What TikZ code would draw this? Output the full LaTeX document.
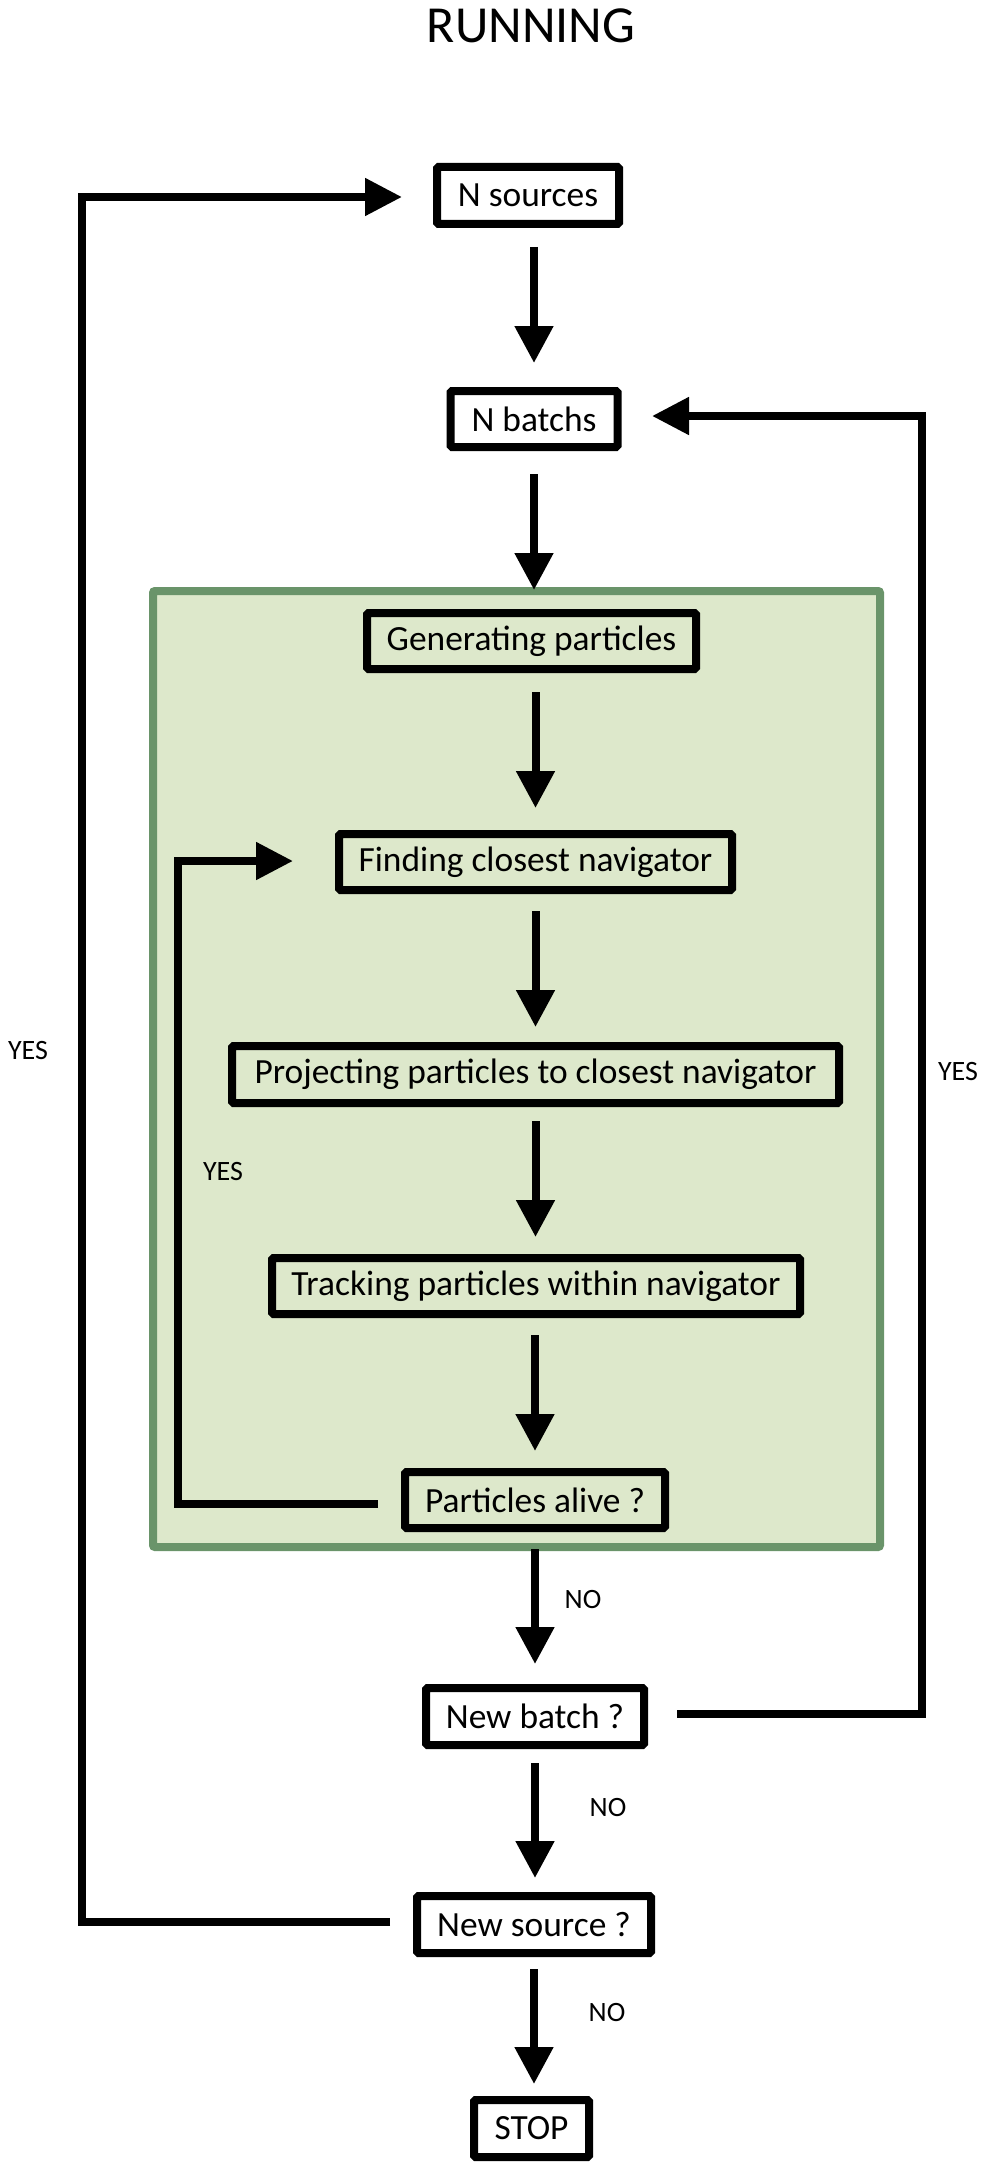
\documentclass[tikz,border=0pt]{standalone}
\usepackage{fontspec}
\setmainfont{Carlito}
\usetikzlibrary{arrows.meta,calc}
\definecolor{gfill}{HTML}{DDE8CB}
\definecolor{gline}{HTML}{6A946A}
\begin{document}
\begin{tikzpicture}[x=1pt,y=-1pt,
  box/.style={draw=black,line width=8pt,fill=white,inner sep=0pt,rounded corners=1.5pt,font=\fontsize{35.4}{42}\selectfont},
  gbox/.style={box,fill=gfill},
  arr/.style={line width=8pt,-{Triangle[width=37pt,length=37pt]}},
  ln/.style={line width=8pt,line join=miter,-{Triangle[width=36pt,length=37pt]}},
  lbl/.style={font=\fontsize{28}{33}\selectfont}]
\useasboundingbox (0,0) rectangle (986,2167);

\node[font=\fontsize{52}{62}\selectfont,anchor=base] (title) at (531,43) {RUNNING};

\node[draw=gline,fill=gfill,line width=8pt,inner sep=0pt,minimum width=727pt,minimum height=956pt,rounded corners=2pt] (grn) at (516.5,1069) {};

\node[box,minimum width=182pt,minimum height=57pt] (ns) at (528,195.5) {N sources};
\node[box,minimum width=167pt,minimum height=56pt] (nb) at (534,419) {N batchs};
\node[gbox,minimum width=329pt,minimum height=56pt] (gen) at (531.5,641) {Generating particles};
\node[gbox,minimum width=393pt,minimum height=56pt] (find) at (535.5,862) {Finding closest navigator};
\node[gbox,minimum width=607pt,minimum height=57pt] (proj) at (535.5,1074.5) {Projecting particles to closest navigator};
\node[gbox,minimum width=528pt,minimum height=56pt] (track) at (536,1286) {Tracking particles within navigator};
\node[gbox,minimum width=260pt,minimum height=56pt] (alive) at (535,1500) {Particles alive ?};
\node[box,minimum width=218pt,minimum height=57pt] (nbat) at (535,1716.5) {New batch ?};
\node[box,minimum width=234pt,minimum height=57pt] (nsrc) at (534,1924.5) {New source ?};
\node[box,minimum width=115pt,minimum height=57pt] (stop) at (531.5,2128.5) {STOP};

\coordinate (L) at (82,1000);
\coordinate (R) at (922,1000);
\coordinate (I) at (178,1200);

\draw[arr] ($(nb.north |- ns.south)+(0,19)$) -- ($(nb.north)+(0,-24)$);
\draw[arr] ($(nb.south)+(0,23)$) -- ($(nb.south |- grn.north)+(0,3)$);
\draw[arr] ($(find.north |- gen.south)+(0,19)$) -- ($(find.north)+(0,-22)$);
\draw[arr] ($(find.south)+(0,17)$) -- ($(proj.north)+(0,-15)$);
\draw[arr] ($(proj.south)+(0,14)$) -- ($(proj.south |- track.north)+(0,-17)$);
\draw[arr] ($(alive.north |- track.south)+(0,17)$) -- ($(alive.north)+(0,-17)$);
\draw[arr] ($(nbat.north |- grn.south)+(0,-2)$) -- ($(nbat.north)+(0,-20)$);
\draw[arr] ($(nbat.south)+(0,14)$) -- ($(nbat.south |- nsrc.north)+(0,-14)$);
\draw[arr] ($(nsrc.south)+(0,12)$) -- ($(nsrc.south |- stop.north)+(0,-12)$);

\draw[ln] ($(nsrc.west)+(-23,-3)$) -| (L) |- ($(ns.west)+(-31,1.5)$);
\draw[ln] ($(nbat.east)+(29,-3)$) -| (R) |- ($(nb.east)+(30.5,-3)$);
\draw[ln] ($(alive.west)+(-23,4)$) -| (I) |- ($(find.west)+(-42,-1)$);

\node[lbl] (yes1) at (28,1050) {YES};
\node[lbl] (yes2) at (958,1071) {YES};
\node[lbl] (yes3) at (223,1171) {YES};
\node[lbl] (no1) at (583,1599) {NO};
\node[lbl] (no2) at (608,1807) {NO};
\node[lbl] (no3) at (607,2012) {NO};
\end{tikzpicture}
\end{document}
